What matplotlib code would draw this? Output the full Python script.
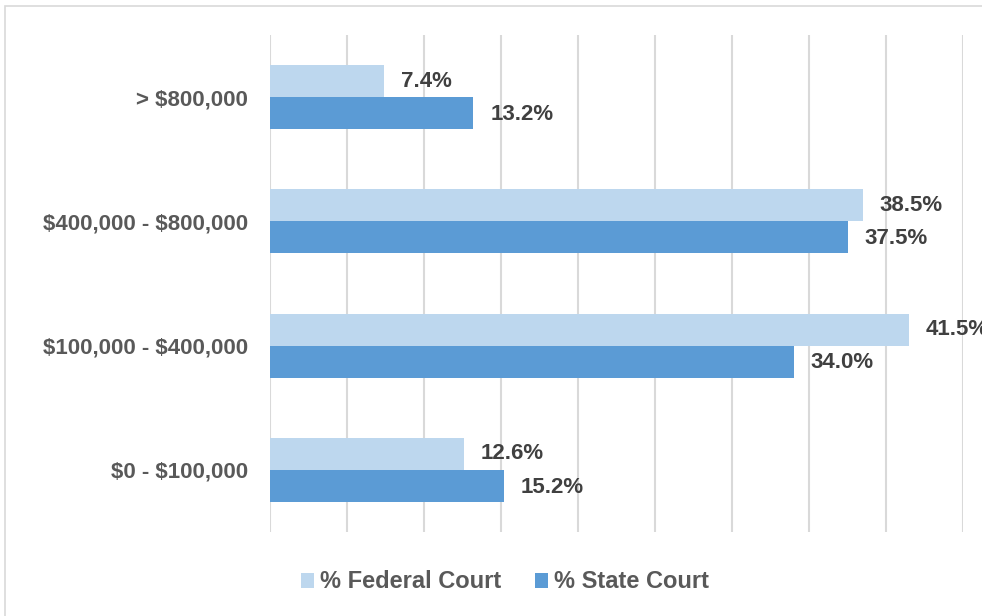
import matplotlib.pyplot as plt
from matplotlib.patches import Rectangle

categories = ['\\$0 - \\$100,000', '\\$100,000 - \\$400,000', '\\$400,000 - \\$800,000', '> \\$800,000']
federal = [12.6, 41.5, 38.5, 7.4]
state = [15.2, 34.0, 37.5, 13.2]

plt.rcParams['font.family'] = ['Liberation Sans', 'DejaVu Sans']

fig = plt.figure(figsize=(9.82, 6.16), dpi=100)
ax = fig.add_axes([270 / 982, 84 / 616, 693 / 982, 497 / 616])

# chart frame, cut off on the right like the original
fig.patches.append(Rectangle((5 / 982, -0.2), 2, 1.2 - 6 / 616,
                             transform=fig.transFigure, fill=False,
                             edgecolor='#D9D9D9', linewidth=1.2))

h = 0.258
y = list(range(len(categories)))
ax.barh([i + h / 2 for i in y], federal, height=h, color='#BDD7EE', label='% Federal Court', zorder=2)
ax.barh([i - h / 2 for i in y], state, height=h, color='#5B9BD5', label='% State Court', zorder=2)

for i in y:
    ax.text(federal[i] + 1.1, i + h / 2, f'{federal[i]:.1f}%', va='center', ha='left',
            fontsize=16, fontweight='bold', color='#404040', clip_on=False)
    ax.text(state[i] + 1.1, i - h / 2 - 0.01, f'{state[i]:.1f}%', va='center', ha='left',
            fontsize=16, fontweight='bold', color='#404040', clip_on=False)

ax.set_xlim(0, 45)
ax.set_ylim(-0.5, 3.5)
ax.set_xticks(range(0, 46, 5))
ax.set_xticklabels([])
ax.tick_params(axis='x', length=0)
ax.tick_params(axis='y', length=0, pad=16)
ax.set_yticks(y)
ax.set_yticklabels(categories, fontsize=16, fontweight='bold', color='#595959')
ax.grid(axis='x', color='#D9D9D9', linewidth=1.5, zorder=0)
for s in ax.spines.values():
    s.set_visible(False)

fig.legend(loc='center', bbox_to_anchor=(505 / 982, 1 - 582 / 616), ncol=2, frameon=False,
           prop={'size': 17, 'weight': 'bold'}, labelcolor='#595959',
           handlelength=0.55, handleheight=0.6, handletextpad=0.25, columnspacing=1.4)

fig.savefig('out.png', dpi=100)
